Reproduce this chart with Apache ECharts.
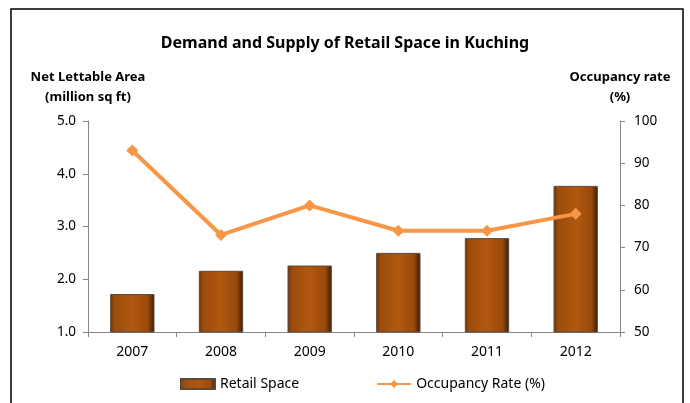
<!DOCTYPE html>
<html>
<head>
<meta charset="utf-8">
<title>Demand and Supply of Retail Space in Kuching</title>
<script src="https://cdn.jsdelivr.net/npm/echarts@6/dist/echarts.min.js"></script>
<style>
  html, body { margin: 0; padding: 0; background: #fff; }
  #chart { width: 690px; height: 403px; }
</style>
</head>
<body>
<div id="chart"></div>
<script>
// data
const years = ['2007', '2008', '2009', '2010', '2011', '2012']
const retailSpace = [1.72, 2.16, 2.26, 2.50, 2.78, 3.77] // million sq ft
const occupancyRate = [93, 73, 80, 74, 74, 78] // %

const font = '"Noto Sans", "Open Sans", sans-serif'

const chart = echarts.init(document.getElementById('chart'), null, { renderer: 'canvas' })

// brown "glassy" bar: lighter left edge, dark right edge
const barColor = new echarts.graphic.LinearGradient(0, 0, 1, 0, [
  { offset: 0, color: '#6e3407' },
  { offset: 0.1, color: '#9c4c0d' },
  { offset: 0.5, color: '#b0580f' },
  { offset: 0.85, color: '#9a4a0c' },
  { offset: 1, color: '#3a1a03' }
])

const option = {
  backgroundColor: '#fff',
  textStyle: { fontFamily: font },
  title: {
    text: 'Demand and Supply of Retail Space in Kuching',
    left: 'center',
    top: 30,
    textStyle: { fontFamily: font, fontSize: 16, fontWeight: 'bold', color: '#000' }
  },
  graphic: [
    {
      type: 'rect',
      shape: { x: 11, y: 9, width: 672, height: 420 },
      style: { fill: 'none', stroke: '#000', lineWidth: 1.5 },
      silent: true
    }
  ],
  legend: {
    left: 180,
    top: 377,
    padding: 0,
    itemWidth: 34,
    itemHeight: 10,
    itemGap: 77,
    textStyle: { fontFamily: font, fontSize: 14, color: '#000' },
    data: [
      { name: 'Retail Space', icon: 'rect' },
      { name: 'Occupancy Rate (%)' }
    ]
  },
  grid: { left: 88, right: 70, top: 121, bottom: 71 },
  xAxis: {
    type: 'category',
    data: years,
    boundaryGap: true,
    axisLine: { lineStyle: { color: '#868686', width: 1 } },
    axisTick: { show: true, length: 5, lineStyle: { color: '#868686' } },
    axisLabel: { margin: 13, fontSize: 14, color: '#000', fontFamily: font }
  },
  yAxis: [
    {
      type: 'value',
      min: 1,
      max: 5,
      interval: 1,
      name: 'Net Lettable Area\n(million sq ft)',
      nameLocation: 'end',
      nameGap: 14,
      nameTextStyle: { fontFamily: font, fontSize: 13, fontWeight: 'bold', color: '#000', align: 'center', lineHeight: 20 },
      axisLine: { show: true, lineStyle: { color: '#868686', width: 1 } },
      axisTick: { show: true, length: 5, lineStyle: { color: '#868686' } },
      splitLine: { show: false },
      axisLabel: { margin: 12, fontSize: 13.5, color: '#000', fontFamily: font, formatter: v => v.toFixed(1) }
    },
    {
      type: 'value',
      min: 50,
      max: 100,
      interval: 10,
      position: 'right',
      name: 'Occupancy rate\n(%)',
      nameLocation: 'end',
      nameGap: 14,
      nameTextStyle: { fontFamily: font, fontSize: 13, fontWeight: 'bold', color: '#000', align: 'center', lineHeight: 20 },
      axisLine: { show: true, lineStyle: { color: '#868686', width: 1 } },
      axisTick: { show: true, length: 5, lineStyle: { color: '#868686' } },
      splitLine: { show: false },
      axisLabel: { margin: 14, fontSize: 13.5, color: '#000', fontFamily: font }
    }
  ],
  series: [
    {
      name: 'Retail Space',
      type: 'bar',
      yAxisIndex: 0,
      barWidth: '50%',
      data: retailSpace,
      itemStyle: { color: barColor, borderColor: '#5a4a3e', borderWidth: 1 }
    },
    {
      // light sheen near the top of each bar
      type: 'custom',
      yAxisIndex: 0,
      silent: true,
      data: retailSpace.map((v, i) => [i, v]),
      renderItem (params, api) {
        const top = api.coord([api.value(0), api.value(1)])
        const w = api.size([1, 0])[0] * 0.5
        return {
          type: 'rect',
          shape: { x: top[0] - w / 2 + 4, y: top[1] + 4, width: w - 8, height: 4, r: 2 },
          style: { fill: 'rgba(240,150,80,0.75)' }
        }
      },
      z: 2
    },
    {
      name: 'Occupancy Rate (%)',
      type: 'line',
      yAxisIndex: 1,
      data: occupancyRate,
      symbol: 'diamond',
      symbolSize: 12,
      lineStyle: { color: '#f79646', width: 4 },
      itemStyle: { color: '#f79646' },
      z: 3
    }
  ],
  animation: false
}

chart.setOption(option)
</script>
</body>
</html>
